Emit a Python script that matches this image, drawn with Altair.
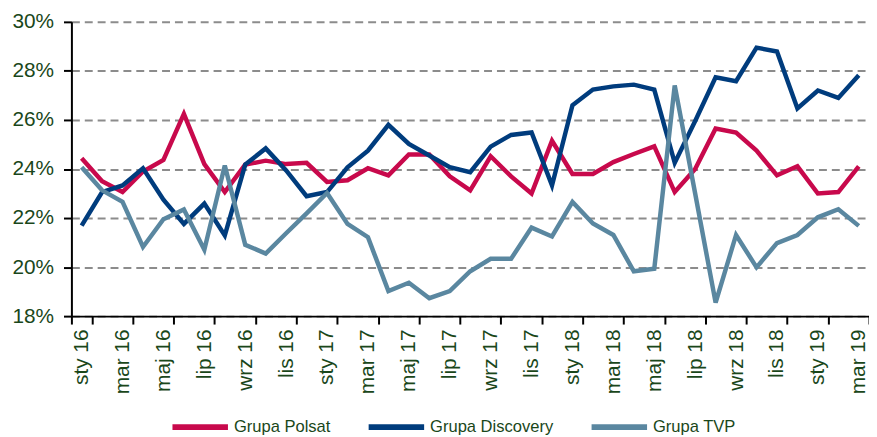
import altair as alt
import pandas as pd

months = ["sty", "lut", "mar", "kwi", "maj", "cze", "lip", "sie", "wrz", "paź", "lis", "gru"]
years = ["16", "17", "18", "19"]
periods = [f"{m} {y}" for y in years for m in months][:39]

polsat = [24.44, 23.5, 23.06, 23.9, 24.37, 26.25, 24.2, 23.06, 24.18, 24.34,
          24.2, 24.25, 23.47, 23.54, 24.03, 23.74, 24.59, 24.59, 23.7, 23.13,
          24.52, 23.7, 23.0, 25.15, 23.8, 23.8, 24.28, 24.61, 24.92, 23.06,
          24.0, 25.65, 25.49, 24.75, 23.74, 24.11, 23.0, 23.06, 24.11]
discovery = [21.69, 23.06, 23.33, 24.03, 22.75, 21.76, 22.59, 21.29, 24.18, 24.84,
             23.94, 22.89, 23.06, 24.07, 24.75, 25.8, 25.02, 24.55, 24.07, 23.87,
             24.91, 25.39, 25.49, 23.33, 26.6, 27.24, 27.37, 27.44, 27.24, 24.25,
             25.96, 27.74, 27.58, 28.95, 28.79, 26.47, 27.2, 26.9, 27.82]
tvp = [24.07, 23.13, 22.66, 20.82, 21.95, 22.35, 20.71, 24.14, 20.91, 20.55,
       21.38, 22.19, 23.02, 21.76, 21.22, 19.02, 19.36, 18.73, 19.02, 19.83,
       20.34, 20.34, 21.61, 21.25, 22.66, 21.78, 21.31, 19.83, 19.93, 27.41,
       23.0, 18.55, 21.31, 19.99, 20.98, 21.31, 22.03, 22.36, 21.68]

series = ["Grupa Polsat", "Grupa Discovery", "Grupa TVP"]
colors = ["#C8094C", "#003C7D", "#5A87A0"]
y_ticks = [18, 20, 22, 24, 26, 28, 30]

rows = []
for name, vals in zip(series, [polsat, discovery, tvp]):
    for p, v in zip(periods, vals):
        rows.append({"okres": p, "udzial": v, "grupa": name})
df = pd.DataFrame(rows)

font = "Liberation Sans"
green = "#1A471A"

chart = alt.Chart(df).mark_line(strokeWidth=4.5).encode(
    x=alt.X(
        "okres:O",
        sort=periods,
        scale=alt.Scale(type="band", paddingInner=0, paddingOuter=0),
        axis=alt.Axis(
            title=None,
            values=periods[::2],
            labelAngle=270,
            labelAlign="right",
            labelBaseline="middle",
            tickBand="extent",
            labelFont=font,
            labelFontSize=21,
            labelColor=green,
            labelPadding=5,
            tickSize=8,
            tickWidth=2,
            tickColor="black",
            domainColor="black",
            domainWidth=2,
            grid=False,
        ),
    ),
    y=alt.Y(
        "udzial:Q",
        scale=alt.Scale(domain=[18, 30], nice=False, zero=False),
        axis=alt.Axis(
            title=None,
            values=y_ticks,
            labelExpr="datum.value + '%'",
            labelFont=font,
            labelFontSize=21,
            labelColor=green,
            labelPadding=10,
            tickSize=8,
            tickWidth=2,
            tickColor="black",
            domainColor="black",
            domainWidth=2,
            grid=True,
            gridDash=[8, 5],
            gridColor="#8C8C8C",
            gridWidth=2,
        ),
    ),
    color=alt.Color(
        "grupa:N",
        scale=alt.Scale(domain=series, range=colors),
        legend=alt.Legend(
            title=None,
            orient="none",
            direction="horizontal",
            legendX=99,
            legendY=378,
            symbolType="stroke",
            symbolSize=3136,
            symbolStrokeWidth=6,
            labelFont=font,
            labelFontSize=16.7,
            labelColor=green,
            labelOffset=3,
            columnPadding=26,
            padding=0,
        ),
    ),
).properties(
    width=805,
    height=297,
    padding={"left": 64, "top": 12, "right": 0, "bottom": 120},
    autosize=alt.AutoSizeParams(type="none"),
).configure_view(stroke=None)

chart.save("out.html", embed_options={"renderer": "svg", "actions": False})
